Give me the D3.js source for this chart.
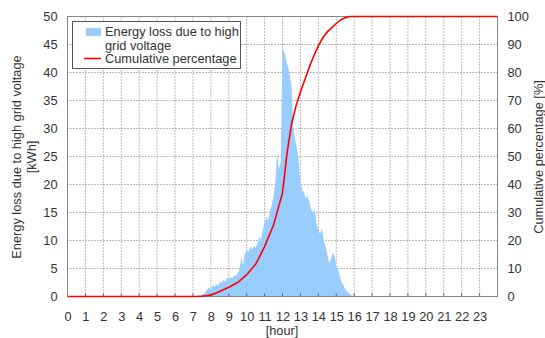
<!DOCTYPE html>
<html>
<head>
<meta charset="utf-8">
<script src="https://cdn.jsdelivr.net/npm/d3@7"></script>
<style>
  body { margin: 0; background: #fff; }
  text { font-family: Arial, "Liberation Sans", sans-serif; fill: #333; }
</style>
</head>
<body>
<div id="chart"></div>
<script>
// energy loss samples (hour, kWh)
var lossHours = [7.0, 7.1, 7.2, 7.3, 7.4, 7.5, 7.6, 7.7, 7.8, 7.9,
  8.0, 8.1, 8.2, 8.3, 8.4, 8.5, 8.6, 8.7, 8.8, 8.9,
  9.0, 9.1, 9.2, 9.3, 9.4, 9.5, 9.6, 9.7, 9.8, 9.9,
  10.0, 10.1, 10.2, 10.3, 10.4, 10.5, 10.6, 10.7, 10.8, 10.9,
  11.0, 11.1, 11.2, 11.3, 11.4, 11.5, 11.6, 11.7, 11.8, 11.9,
  12.0, 12.1, 12.2, 12.3, 12.4, 12.5, 12.6, 12.7, 12.8, 12.9,
  13.0, 13.1, 13.2, 13.3, 13.4, 13.5, 13.6, 13.7, 13.8, 13.9,
  14.0, 14.1, 14.2, 14.3, 14.4, 14.5, 14.6, 14.7, 14.8, 14.9,
  15.0, 15.1, 15.2, 15.3, 15.4, 15.5, 15.6, 15.7, 15.8, 15.9,
  16.0, 16.1, 16.2, 16.3, 16.4];
var lossValues = [0, 0.05, 0.1, 0.2, 0.3, 0.4, 0.5, 0.8, 1.2, 1.6,
  1.3, 2.0, 1.7, 2.2, 1.9, 2.6, 2.4, 3.0, 2.7, 3.3,
  3.1, 3.5, 3.2, 3.8, 3.6, 4.2, 4.8, 6.9, 5.6, 7.6,
  8.4, 8.0, 8.9, 8.4, 9.0, 8.7, 9.4, 10.7, 10.2, 12.0,
  13.0, 14.2, 13.6, 15.2, 16.4, 17.8, 20.5, 25.5, 22.8, 24.0,
  44.5, 43.6, 42.3, 41.0, 39.5, 37.8, 30.0, 28.2, 26.5, 24.2,
  20.5, 19.0, 18.6, 17.4, 18.0, 16.8, 15.6, 15.0, 15.6, 13.0,
  11.8, 11.2, 12.2, 10.0, 9.0, 7.6, 6.0, 6.6, 7.8, 7.3,
  5.5, 4.8, 3.6, 2.6, 2.0, 1.3, 0.9, 0.6, 0.3, 0.15,
  0.1, 0.05, 0.05, 0.02, 0];

// cumulative percentage (hour, %)
var cumHours = [0, 7.0, 7.5, 8.0, 8.5, 9.0, 9.5, 10.0, 10.5, 11.0, 11.5, 12.0,
  12.25, 12.5, 12.75, 13.0, 13.25, 13.5, 13.75, 14.0, 14.25, 14.5, 14.75,
  15.0, 15.25, 15.5, 15.75, 16.0, 24];
var cumValues = [0, 0, 0.1, 0.5, 1.8, 3.3, 5.0, 7.8, 11.5, 17.8, 25.5, 37.0,
  51.0, 61.5, 68.0, 73.0, 77.5, 82.0, 86.0, 89.5, 92.4, 94.5, 96.0,
  97.5, 98.8, 99.6, 100, 100, 100];

var hourTicks = [0, 1, 2, 3, 4, 5, 6, 7, 8, 9, 10, 11, 12, 13, 14, 15, 16, 17, 18, 19, 20, 21, 22, 23];
var leftTicks = [0, 5, 10, 15, 20, 25, 30, 35, 40, 45, 50];
var rightTicks = [0, 10, 20, 30, 40, 50, 60, 70, 80, 90, 100];

var svgWidth = 545;
var svgHeight = 338;
var fontSize = "12.8px";

var svg = d3.select("#chart")
  .append("svg")
  .attr("width", svgWidth)
  .attr("height", svgHeight);

svg.append("rect").attr("width", svgWidth).attr("height", svgHeight).attr("fill", "#fff");

var x = d3.scaleLinear().domain([0, 24]).range([67.5, 497.5]);
var yLeft = d3.scaleLinear().domain([0, 50]).range([296.5, 16.5]);
var yRight = d3.scaleLinear().domain([0, 100]).range([296.5, 16.5]);

// grid
var grid = svg.append("g");
grid.selectAll(".hg")
  .data(leftTicks.filter(d => d > 0 && d < 50))
  .enter().append("line")
  .attr("x1", x(0)).attr("x2", x(24))
  .attr("y1", d => yLeft(d)).attr("y2", d => yLeft(d))
  .attr("stroke", "#777").attr("stroke-dasharray", "1,2");
grid.selectAll(".vg")
  .data(hourTicks.filter(d => d > 0))
  .enter().append("line")
  .attr("x1", d => x(d)).attr("x2", d => x(d))
  .attr("y1", yLeft(50)).attr("y2", yLeft(0))
  .attr("stroke", "#777").attr("stroke-dasharray", "1,2");

// energy loss area
var lossData = lossHours.map((h, i) => ({ h: h, v: lossValues[i] }));
var area = d3.area()
  .x(d => x(d.h))
  .y0(yLeft(0))
  .y1(d => yLeft(d.v));
svg.append("path")
  .datum(lossData)
  .attr("d", area)
  .attr("fill", "#99ccff");

// frame
svg.append("rect")
  .attr("x", x(0)).attr("y", yLeft(50))
  .attr("width", x(24) - x(0)).attr("height", yLeft(0) - yLeft(50))
  .attr("fill", "none").attr("stroke", "#888");

// axes
var bottomAxis = d3.axisBottom(x).tickValues(hourTicks).tickSize(0).tickPadding(15);
var gx = svg.append("g").attr("transform", `translate(0, ${yLeft(0)})`).call(bottomAxis);
var leftAxis = d3.axisLeft(yLeft).tickValues(leftTicks).tickSize(0).tickPadding(10);
var gl = svg.append("g").attr("transform", `translate(${x(0)}, 0)`).call(leftAxis);
var rightAxis = d3.axisRight(yRight).tickValues(rightTicks).tickSize(0).tickPadding(10);
var gr = svg.append("g").attr("transform", `translate(${x(24)}, 0)`).call(rightAxis);
[gx, gl, gr].forEach(function(g) {
  g.select(".domain").remove();
  g.selectAll("text").attr("font-size", fontSize).style("font-family", "Arial, 'Liberation Sans', sans-serif").attr("fill", "#333");
});

// small inward ticks on the hour axis
svg.append("g").selectAll("line")
  .data(hourTicks.filter(d => d > 0))
  .enter().append("line")
  .attr("x1", d => x(d)).attr("x2", d => x(d))
  .attr("y1", yLeft(0)).attr("y2", yLeft(0) - 3)
  .attr("stroke", "#666");

// cumulative line
var cumData = cumHours.map((h, i) => ({ h: h, v: cumValues[i] }));
var line = d3.line()
  .x(d => x(d.h))
  .y(d => yRight(d.v));
svg.append("path")
  .datum(cumData)
  .attr("d", line)
  .attr("fill", "none")
  .attr("stroke", "#ff0000")
  .attr("stroke-width", 1.6);

// axis titles
svg.append("text")
  .attr("transform", `translate(21, 157) rotate(-90)`)
  .attr("text-anchor", "middle")
  .attr("font-size", fontSize)
  .text("Energy loss due to high grid voltage");
svg.append("text")
  .attr("transform", `translate(36, 157) rotate(-90)`)
  .attr("text-anchor", "middle")
  .attr("font-size", fontSize)
  .text("[kWh]");
svg.append("text")
  .attr("transform", `translate(543, 157) rotate(-90)`)
  .attr("text-anchor", "middle")
  .attr("font-size", fontSize)
  .text("Cumulative percentage [%]");
svg.append("text")
  .attr("x", 282).attr("y", 334.5)
  .attr("text-anchor", "middle")
  .attr("font-size", fontSize)
  .text("[hour]");

// legend
var legend = svg.append("g");
legend.append("rect")
  .attr("x", 72.5).attr("y", 21.5).attr("width", 168).attr("height", 47)
  .attr("fill", "#fff").attr("stroke", "#555");
legend.append("rect")
  .attr("x", 86).attr("y", 28).attr("width", 15).attr("height", 8)
  .attr("fill", "#99ccff");
legend.append("text").attr("x", 105).attr("y", 36).attr("font-size", fontSize).text("Energy loss due to high");
legend.append("text").attr("x", 105).attr("y", 49.5).attr("font-size", fontSize).text("grid voltage");
legend.append("line")
  .attr("x1", 84).attr("x2", 101).attr("y1", 58.5).attr("y2", 58.5)
  .attr("stroke", "#ff0000").attr("stroke-width", 1.6);
legend.append("text").attr("x", 105).attr("y", 63).attr("font-size", fontSize).text("Cumulative percentage");
</script>
</body>
</html>
